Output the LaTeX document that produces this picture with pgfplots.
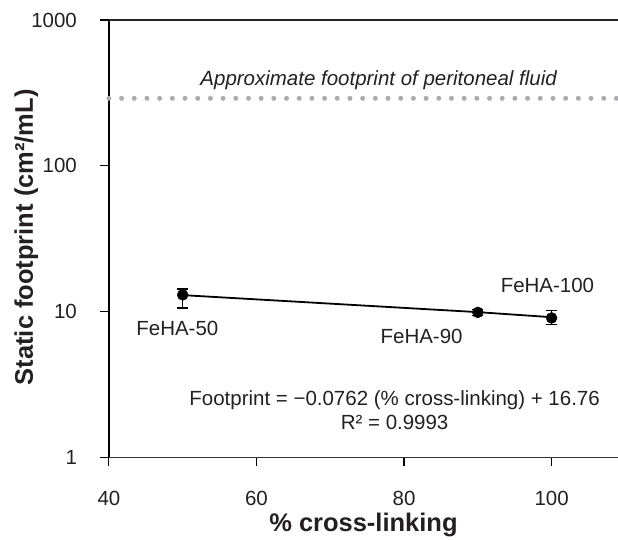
\documentclass[border=0pt]{standalone}
\usepackage{fontspec}
\setmainfont{Liberation Sans}
\usepackage{pgfplots}
\pgfplotsset{compat=1.18}
\definecolor{txt}{rgb}{0.14,0.12,0.13}
\definecolor{dotgray}{RGB}{170,172,176}
\begin{document}
\begin{tikzpicture}
\begin{axis}[
  scale only axis, width=509.6pt, height=437.7pt,
  at={(0,0)}, anchor=south west,
  xmin=40, xmax=109, ymode=log, ymin=1, ymax=1000,
  axis x line*=bottom, axis y line*=left,
  x axis line style={-, line width=1.2pt, black!80},
  y axis line style={-, line width=1.5pt, black},
  xtick={40,60,80,100}, xticklabels={40,60,80,100},
  ytick={1,10,100,1000}, yticklabels={1,10,100,1000},
  yminorticks=false, xminorticks=false,
  tick align=outside, major tick length=9pt,
  tick style={black, line width=1.1pt},
  ticklabel style={font=\fontsize{20.5}{24}\selectfont, text=txt},
  xticklabel style={yshift=-21pt},
  yticklabel style={xshift=-19.5pt},
  clip=false,
]
\addplot[dotgray, line width=5pt, line cap=round, dash pattern=on 0pt off 12.7pt] coordinates {(40,290) (109,290)};
\addplot[black, line width=1.8pt] coordinates {(50,12.95) (90,9.90) (100,9.14)};
\addplot[only marks, mark=*, mark size=5.5pt, black,
  error bars/.cd, y dir=both, y explicit,
  error bar style={line width=1.4pt, black},
  error mark options={rotate=90, mark size=5.5pt, line width=1.4pt, black}]
  coordinates {
   (50,13.0) += (0,1.3) -= (0,2.45)
   (90,9.86) += (0,0.5) -= (0,0.5)
   (100,9.03) += (0,1.1) -= (0,0.9)
  };
\end{axis}
\draw[line width=1.2pt, black!85] (0,437.7pt) -- (509.6pt,437.7pt);
\begin{scope}[every node/.style={font=\fontsize{20.5}{24}\selectfont, text=txt, inner sep=0pt}]
\node[anchor=base, font=\fontsize{20.5}{24}\selectfont\itshape] at (270pt,371.7pt) {Approximate footprint of peritoneal fluid};
\node[anchor=base] at (68.5pt,122pt) {FeHA-50};
\node[anchor=base] at (313pt,113.7pt) {FeHA-90};
\node[anchor=base] at (439pt,165.4pt) {FeHA-100};
\node[anchor=base] at (286pt,51.7pt) {Footprint = −0.0762 (\% cross-linking) + 16.76};
\node[anchor=base] at (286pt,27.7pt) {R² = 0.9993};
\node[anchor=base, font=\fontsize{25.5}{30}\selectfont\bfseries] at (254.8pt,-74.3pt) {\% cross-linking};
\node[rotate=90, anchor=base, font=\fontsize{25.5}{30}\selectfont\bfseries] at (-76pt,220.2pt) {Static footprint (cm²/mL)};
\end{scope}
\pgfresetboundingbox
\path (-109pt,-82.3pt) rectangle (509.6pt,457.7pt);
\end{tikzpicture}
\end{document}
